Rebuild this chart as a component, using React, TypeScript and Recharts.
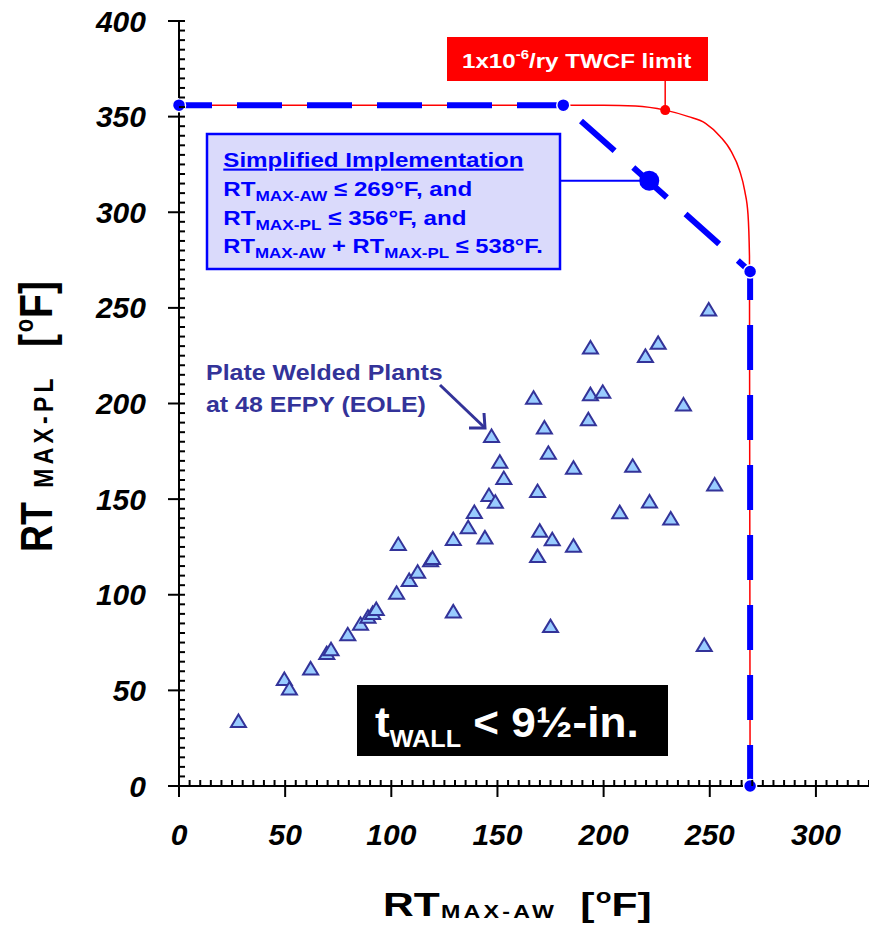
import React from 'react';
import { ScatterChart, Scatter, XAxis, YAxis, ReferenceLine } from 'recharts';

// plate welded plants at 48 EFPY (EOLE)
const plateAW = [28, 49.6, 52, 62, 69.6, 71.6, 79.5, 85.5, 89, 91.2, 92.9, 102.5, 103.3, 108.4, 112.4, 118.5, 119.4, 129.2, 129.2, 136.2, 139.1, 144.1, 146, 149, 147.2, 151.1, 153, 167, 168.9, 169.9, 168.9, 172.1, 174, 175.8, 175, 185.8, 185.8, 192.8, 193.8, 193.8, 199.6, 207.6, 213.7, 219.7, 221.6, 225.7, 231.6, 237.6, 247.4, 249.5, 252.3];
const platePL = [34, 56, 51, 61.5, 69.5, 71.5, 79.3, 84.8, 88.5, 90.5, 92.6, 101, 126.5, 107.7, 112, 118, 119.2, 129.1, 91.3, 135.3, 143.3, 130, 152.1, 148.6, 183, 169.6, 161, 203, 154.2, 133.5, 120.2, 187.5, 174.2, 129, 83.6, 166.4, 125.6, 191.8, 204.9, 229.3, 206.1, 143.2, 167.4, 224.9, 148.8, 231.7, 139.9, 199.5, 73.7, 249.2, 157.7];

// simplified implementation envelope
const simpAW = [0, 181, 269, 269];
const simpPL = [356, 356, 269, 0];
const simpMarkAW = [221.5];
const simpMarkPL = [316.5];

// 1x10^-6/ry TWCF limit curve
const twcfAW = [0, 200, 215, 229, 240, 248, 255, 260, 264, 266.5, 268, 268.7, 269];
const twcfPL = [356, 356, 355.6, 353.4, 350, 346.5, 339.5, 332, 322, 311, 299, 277, 0];
const twcfMarkAW = [229];
const twcfMarkPL = [353.4];

const xMajor = [0, 50, 100, 150, 200, 250, 300];
const yMajor = [0, 50, 100, 150, 200, 250, 300, 350, 400];

const minorTicks = (max: number) => {
  const out: number[] = [];
  for (let v = 0; v <= max; v += 5) out.push(v);
  return out;
};
const xTicks = minorTicks(325);
const yTicks = minorTicks(400);

const zip = (xs: number[], ys: number[]) => xs.map((x, i) => ({ x, y: ys[i] }));

const FONT = "'Liberation Sans', Arial, sans-serif";

const XTick = (props: any) => {
  const { x, y, payload } = props;
  const major = xMajor.includes(payload.value);
  return (
    <g>
      <line x1={x} x2={x} y1={y - 6} y2={major ? y + 11 : y} stroke="#000" strokeWidth={2} />
      {major && (
        <text x={x} y={y + 59} textAnchor="middle" fontFamily={FONT} fontSize={30} fontWeight="bold" fontStyle="italic" fill="#000">
          {payload.value}
        </text>
      )}
    </g>
  );
};

const YTick = (props: any) => {
  const { x, y, payload } = props;
  const major = yMajor.includes(payload.value);
  return (
    <g>
      <line x1={major ? x - 11 : x} x2={x + 6} y1={y} y2={y} stroke="#000" strokeWidth={2} />
      {major && (
        <text x={x - 33} y={y + 10.5} textAnchor="end" fontFamily={FONT} fontSize={30} fontWeight="bold" fontStyle="italic" fill="#000">
          {payload.value}
        </text>
      )}
    </g>
  );
};

const Triangle = (props: any) => {
  const { cx, cy } = props;
  return (
    <polygon
      points={`${cx},${cy - 6.5} ${cx - 7.5},${cy + 6} ${cx + 7.5},${cy + 6}`}
      fill="#99CCFF"
      stroke="#333399"
      strokeWidth={2}
    />
  );
};

const CornerDot = (props: any) => (
  <circle cx={props.cx} cy={props.cy} r={6.5} fill="#0000FF" stroke="#fff" strokeWidth={1.5} />
);
const BigDot = (props: any) => <circle cx={props.cx} cy={props.cy} r={10} fill="#0000FF" />;
const RedDot = (props: any) => <circle cx={props.cx} cy={props.cy} r={5} fill="#FF0000" />;
const NoDot = () => <g />;

export default function App() {
  return (
    <div style={{ position: 'absolute', left: 0, top: 0, width: 869, height: 937, background: '#fff' }}>
      <ScatterChart width={869} height={937} margin={{ top: 21, right: 0, bottom: 0, left: 0 }}>
        <XAxis
          type="number"
          dataKey="x"
          domain={[0, 325]}
          ticks={xTicks}
          interval={0}
          height={151}
          tickSize={0}
          tickMargin={0}
          tickLine={false}
          axisLine={{ stroke: '#000', strokeWidth: 2 }}
          tick={<XTick />}
        />
        <YAxis
          type="number"
          dataKey="y"
          domain={[0, 400]}
          ticks={yTicks}
          interval={0}
          width={179}
          tickSize={0}
          tickMargin={0}
          tickLine={false}
          axisLine={{ stroke: '#000', strokeWidth: 2 }}
          tick={<YTick />}
        />
        <ReferenceLine segment={[{ x: 229, y: 353.4 }, { x: 229, y: 368.8 }]} stroke="#FF0000" strokeWidth={1.5} ifOverflow="visible" />
        <ReferenceLine segment={[{ x: 179.8, y: 316.5 }, { x: 221.5, y: 316.5 }]} stroke="#0000FF" strokeWidth={2} ifOverflow="visible" />
        <Scatter
          data={zip(twcfAW, twcfPL)}
          line={{ stroke: '#FF0000', strokeWidth: 1.5 }}
          lineJointType="monotoneX"
          shape={<NoDot />}
          isAnimationActive={false}
        />
        <Scatter
          data={zip(simpAW, simpPL)}
          line={{ stroke: '#0000FF', strokeWidth: 6, strokeDasharray: '45 25', strokeDashoffset: 12 }}
          shape={<CornerDot />}
          isAnimationActive={false}
        />
        <Scatter data={zip(twcfMarkAW, twcfMarkPL)} shape={<RedDot />} isAnimationActive={false} />
        <Scatter data={zip(simpMarkAW, simpMarkPL)} shape={<BigDot />} isAnimationActive={false} />
        <Scatter data={zip(plateAW, platePL)} shape={<Triangle />} isAnimationActive={false} />
      </ScatterChart>

      <svg width={869} height={937} style={{ position: 'absolute', left: 0, top: 0, pointerEvents: 'none' }} fontFamily={FONT} fontWeight="bold">
        {/* TWCF limit label */}
        <rect x={447} y={37} width={261} height={44} fill="#FF0000" />
        <g transform="translate(462,68.3) scale(1.15,1)">
          <text fill="#fff" fontSize={21}>
            1x10<tspan fontSize={13} dy={-9}>-6</tspan>
            <tspan dy={9}>/ry TWCF limit</tspan>
          </text>
        </g>

        {/* simplified implementation box */}
        <rect x={207} y={134} width={353} height={135} fill="#DADAFB" stroke="#0000FF" strokeWidth={2.5} />
        <g transform="translate(223.3,166.7) scale(1.15,1)">
          <text fill="#0000FF" fontSize={21} textDecoration="underline">Simplified Implementation</text>
        </g>
        <g transform="translate(223.3,196) scale(1.15,1)">
          <text fill="#0000FF" fontSize={21}>
            RT<tspan fontSize={15} dy={5}>MAX-AW</tspan>
            <tspan dy={-5}> ≤ 269°F, and</tspan>
          </text>
        </g>
        <g transform="translate(223.3,225) scale(1.15,1)">
          <text fill="#0000FF" fontSize={21}>
            RT<tspan fontSize={15} dy={5}>MAX-PL</tspan>
            <tspan dy={-5}> ≤ 356°F, and</tspan>
          </text>
        </g>
        <g transform="translate(223.3,253.3) scale(1.13,1)">
          <text fill="#0000FF" fontSize={21}>
            RT<tspan fontSize={15} dy={5}>MAX-AW</tspan>
            <tspan dy={-5}> + RT</tspan>
            <tspan fontSize={15} dy={5}>MAX-PL</tspan>
            <tspan dy={-5}> ≤ 538°F.</tspan>
          </text>
        </g>

        {/* plate welded plants annotation */}
        <g transform="translate(206,380) scale(1.085,1)">
          <text fill="#333399" fontSize={23}>Plate Welded Plants</text>
        </g>
        <g transform="translate(206,411.7) scale(1.085,1)">
          <text fill="#333399" fontSize={23}>at 48 EFPY (EOLE)</text>
        </g>
        <line x1={440} y1={385} x2={485} y2={428} stroke="#333399" strokeWidth={3} />
        <polyline points="469,428 485,428 484,413" fill="none" stroke="#333399" strokeWidth={3} />

        {/* wall thickness label */}
        <rect x={357} y={685} width={311} height={71} fill="#000" />
        <g transform="translate(375,737) scale(1.05,1)">
          <text fill="#fff" fontSize={42}>
            t<tspan fontSize={24} dy={10}>WALL</tspan>
            <tspan dy={-10}> &lt; 9½-in.</tspan>
          </text>
        </g>

        {/* x axis title */}
        <g transform="translate(383,916) scale(1.29,1)">
          <text fill="#000" fontSize={33}>
            RT<tspan fontSize={18} letterSpacing={2.5} dx={1} dy={2}>MAX-AW</tspan>
            <tspan dx={18} dy={-2}>[</tspan>
            <tspan fontSize={20} dx={1} dy={-13}>o</tspan>
            <tspan dy={13}>F]</tspan>
          </text>
        </g>

        {/* y axis title */}
        <g transform="translate(52,552) rotate(-90) scale(0.85,1)">
          <text fill="#000" fontSize={44}>
            RT<tspan fontSize={27} letterSpacing={5} dx={17} dy={1}>MAX-PL</tspan>
            <tspan fontSize={46} dx={32} dy={-1}>[</tspan>
            <tspan fontSize={26} dx={2} dy={-19}>o</tspan>
            <tspan fontSize={46} dx={1} dy={19}>F]</tspan>
          </text>
        </g>
      </svg>
    </div>
  );
}
